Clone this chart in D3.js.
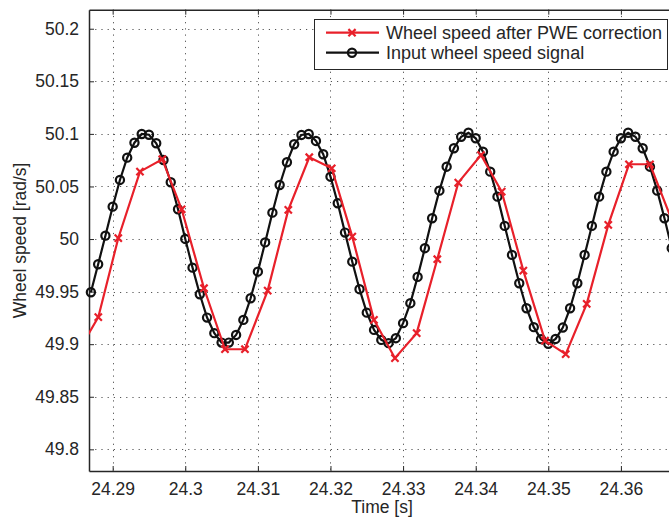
<!DOCTYPE html>
<html>
<head>
<meta charset="utf-8">
<script src="https://cdn.jsdelivr.net/npm/d3@7"></script>
<style>
html,body{margin:0;padding:0;background:#fff;}
svg{display:block;font-family:"Liberation Sans",Arial,Helvetica,sans-serif;}
</style>
</head>
<body>
<svg id="chart" width="669" height="522"></svg>
<script>
// ---- data ----
const inputStart = 24.287;      // first sample time of input signal [s]
const inputStep = 0.001;        // sampling step [s]
const inputValues = [
  49.9494, 49.9760, 50.0032, 50.0308, 50.0562, 50.0774, 50.0916, 50.0999, 50.0992, 50.0911,
  50.0752, 50.0540, 50.0283, 50.0001, 49.9728, 49.9475, 49.9253, 49.9105, 49.9015, 49.9015,
  49.9088, 49.9231, 49.9437, 49.9690, 49.9968, 50.0251, 50.0514, 50.0730, 50.0901, 50.0990,
  50.0999, 50.0933, 50.0806, 50.0593, 50.0340, 50.0061, 49.9785, 49.9523, 49.9300, 49.9136,
  49.9041, 49.9010, 49.9057, 49.9200, 49.9390, 49.9640, 49.9913, 50.0198, 50.0460, 50.0688,
  50.0863, 50.0973, 50.1011, 50.0958, 50.0831, 50.0641, 50.0403, 50.0125, 49.9849, 49.9580,
  49.9342, 49.9162, 49.9048, 49.9003, 49.9050, 49.9158, 49.9342, 49.9580, 49.9849, 50.0125,
  50.0403, 50.0641, 50.0831, 50.0958, 50.1011, 50.0973, 50.0863, 50.0688, 50.0460, 50.0198,
  49.9913
];
const correctedTimes = [
  24.28508, 24.28802, 24.29077, 24.29376, 24.29683, 24.29950, 24.30258, 24.30547, 24.30822, 24.31135,
  24.31419, 24.31708, 24.32017, 24.32300, 24.32599, 24.32888, 24.33187, 24.33471, 24.33760, 24.34073,
  24.34358, 24.34656, 24.34955, 24.35240, 24.35529, 24.35826, 24.36111, 24.36401, 24.36769
];
const correctedValues = [
  49.8908, 49.9257, 50.0008, 50.0641, 50.0759, 50.0283, 49.9532, 49.8952, 49.8952, 49.9510,
  50.0277, 50.0778, 50.0673, 50.0023, 49.9231, 49.8867, 49.9105, 49.9808, 50.0536, 50.0799,
  50.0451, 49.9700, 49.9034, 49.8905, 49.9383, 50.0134, 50.0711, 50.0711, 50.0058
];
const xTicks = [24.29, 24.30, 24.31, 24.32, 24.33, 24.34, 24.35, 24.36];
const xTickLabels = ["24.29", "24.3", "24.31", "24.32", "24.33", "24.34", "24.35", "24.36"];
const yTicks = [49.80, 49.85, 49.90, 49.95, 50.00, 50.05, 50.10, 50.15, 50.20];
const yTickLabels = ["49.8", "49.85", "49.9", "49.95", "50", "50.05", "50.1", "50.15", "50.2"];
const xDomain = [24.28674, 24.36690];
const yDomain = [49.7794, 50.2181];
const seriesNames = ["Wheel speed after PWE correction", "Input wheel speed signal"];
const xLabel = "Time [s]";
const yLabel = "Wheel speed [rad/s]";

// ---- layout ----
const L = 89, R = 671, T = 9.7, B = 471;
const axisColor = "#262626";
const red = "#e8202a";
const black = "#111";

const svg = d3.select("#chart");
svg.append("rect").attr("width", 669).attr("height", 522).attr("fill", "#fff");

const x = d3.scaleLinear().domain(xDomain).range([L, R]);
const y = d3.scaleLinear().domain(yDomain).range([B, T]);

const inputData = inputValues.map((v, i) => ({t: inputStart + i * inputStep, v}));
const corrData = correctedTimes.map((t, i) => ({t, v: correctedValues[i]}));

svg.append("defs").append("clipPath").attr("id", "clip")
  .append("rect").attr("x", L).attr("y", T).attr("width", R - L).attr("height", B - T);

// grid
const grid = svg.append("g").attr("stroke", "#555").attr("stroke-width", 1)
  .attr("stroke-dasharray", "1.2,5").attr("fill", "none");
xTicks.forEach(t => grid.append("line").attr("x1", Math.round(x(t)) + 0.5).attr("x2", Math.round(x(t)) + 0.5)
  .attr("y1", T).attr("y2", B));
yTicks.forEach(t => grid.append("line").attr("y1", Math.round(y(t)) + 0.5).attr("y2", Math.round(y(t)) + 0.5)
  .attr("x1", L).attr("x2", R));

// axes
const fontSize = 17.5;
const xAxis = d3.axisBottom(x).tickValues(xTicks).tickFormat((d, i) => xTickLabels[i])
  .tickSizeInner(-5).tickSizeOuter(0).tickPadding(12);
const gx = svg.append("g").attr("transform", `translate(0,${B})`).call(xAxis);
const xAxisTop = d3.axisTop(x).tickValues(xTicks).tickFormat("").tickSizeInner(-5).tickSizeOuter(0);
const gxt = svg.append("g").attr("transform", `translate(0,${T})`).call(xAxisTop);
const yAxis = d3.axisLeft(y).tickValues(yTicks).tickFormat((d, i) => yTickLabels[i])
  .tickSizeInner(-5).tickSizeOuter(0).tickPadding(10);
const gy = svg.append("g").attr("transform", `translate(${L},0)`).call(yAxis);
[gx, gxt, gy].forEach(g => {
  g.select(".domain").attr("stroke", axisColor).attr("stroke-width", 1.5);
  g.selectAll(".tick line").attr("stroke", axisColor).attr("stroke-width", 1);
  g.selectAll("text").attr("fill", axisColor).style("font-size", fontSize + "px")
    .style("font-family", "'Liberation Sans', Arial, sans-serif");
});
gx.selectAll("text").attr("dy", "0.71em");

// axis labels
svg.append("text").attr("x", 382).attr("y", 513).attr("text-anchor", "middle")
  .attr("fill", axisColor).style("font-size", fontSize + "px").text(xLabel);
svg.append("text").attr("transform", `translate(26,${(T + B) / 2}) rotate(-90)`)
  .attr("text-anchor", "middle").attr("fill", axisColor).style("font-size", fontSize + "px").text(yLabel);

// lines
const line = d3.line().x(d => x(d.t)).y(d => y(d.v));
const plot = svg.append("g");
plot.append("path").datum(inputData).attr("clip-path", "url(#clip)")
  .attr("d", line).attr("fill", "none").attr("stroke", black).attr("stroke-width", 2.2);
const inDom = d => d.t >= xDomain[0] - 1e-9 && d.t <= xDomain[1] + 0.0002;
plot.append("g").selectAll("circle").data(inputData.filter(inDom)).join("circle")
  .attr("cx", d => x(d.t)).attr("cy", d => y(d.v)).attr("r", 4.1)
  .attr("fill", "none").attr("stroke", black).attr("stroke-width", 2.2);

plot.append("path").datum(corrData).attr("clip-path", "url(#clip)")
  .attr("d", line).attr("fill", "none").attr("stroke", red).attr("stroke-width", 2.2);
const cross = 3.6;
const crossPath = (cx, cy) => `M${cx - cross},${cy - cross}L${cx + cross},${cy + cross}M${cx - cross},${cy + cross}L${cx + cross},${cy - cross}`;
plot.append("g").selectAll("path").data(corrData.filter(d => d.t >= xDomain[0] && d.t <= xDomain[1])).join("path")
  .attr("d", d => crossPath(x(d.t), y(d.v))).attr("stroke", red).attr("stroke-width", 2.2).attr("fill", "none");

// legend
const lg = svg.append("g");
lg.append("rect").attr("x", 314.5).attr("y", 19.5).attr("width", 353).attr("height", 50)
  .attr("fill", "#fff").attr("stroke", axisColor).attr("stroke-width", 1);
const ly = [32.7, 52.7];
lg.append("line").attr("x1", 326).attr("x2", 379).attr("y1", ly[0]).attr("y2", ly[0])
  .attr("stroke", red).attr("stroke-width", 2.2);
lg.append("path").attr("d", crossPath(352, ly[0])).attr("stroke", red).attr("stroke-width", 2.2);
lg.append("line").attr("x1", 326).attr("x2", 379).attr("y1", ly[1]).attr("y2", ly[1])
  .attr("stroke", black).attr("stroke-width", 2.2);
lg.append("circle").attr("cx", 352).attr("cy", ly[1]).attr("r", 4.1)
  .attr("fill", "none").attr("stroke", black).attr("stroke-width", 2.2);
seriesNames.forEach((n, i) => lg.append("text").attr("x", 386).attr("y", ly[i]).attr("dy", "0.35em")
  .attr("fill", axisColor).style("font-size", "18px").text(n));
</script>
</body>
</html>
